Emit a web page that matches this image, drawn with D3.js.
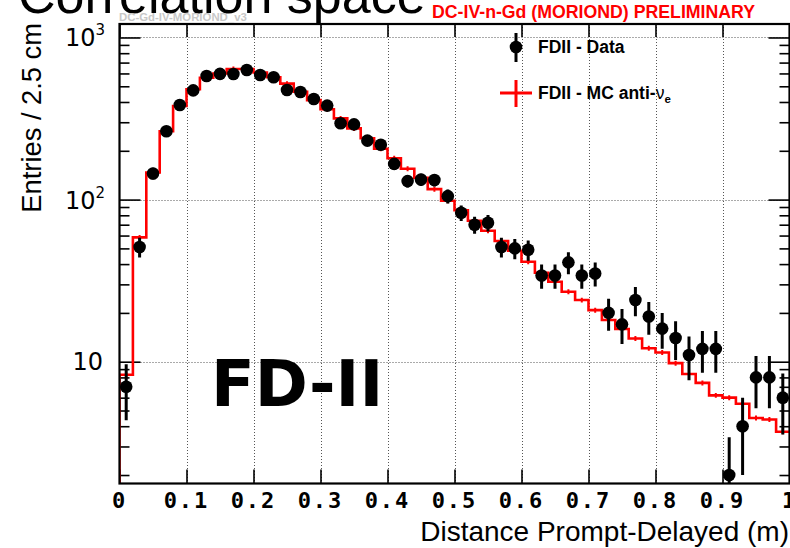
<!DOCTYPE html>
<html><head><meta charset="utf-8">
<script src="https://cdn.jsdelivr.net/npm/d3@7"></script>
<style>html,body{margin:0;padding:0;background:#fff;overflow:hidden} svg{display:block}</style>
</head><body>
<svg id="c" width="790" height="548"></svg>
<script>
// ---- data ----
const binWidth = 0.02;
const dataCounts = [7,51,145,264,383,472,579,596,595,630,587,568,474,461,417,380,296,291,231,218,
  166,130,133,132,105,83,70,72,51,50,49,34,34,41,34,35,20,17,24,19,16,14,11,12,12,2,4,8,8,6];
const mcValues = [8.3,58.5,147,264,378,479,565,600,639,639,608,568,519,463,411,361,317,275,239,206,
  180,155,136.5,116,98.3,85.9,74.1,64.3,55.5,48.4,41.4,35.4,31.1,27.0,24.0,20.8,18.1,15.9,13.9,12.1,
  11.4,9.8,8.4,7.4,6.2,6.0,5.5,4.5,4.4,3.7];
const mcRelErr = 0.035;
const xTickLabels = ["0","0.1","0.2","0.3","0.4","0.5","0.6","0.7","0.8","0.9","1"];
const xTickValues = [0,0.1,0.2,0.3,0.4,0.5,0.6,0.7,0.8,0.9,1];
const yMajorTicks = [10,100,1000];
const yMajorExp = [1,2,3];
const yRange = [1.773,1211];

// ---- layout ----
const svg = d3.select("#c");
const L = 119.5, R = 789.5, T = 24, B = 483.5;
const x = d3.scaleLinear().domain([0,1]).range([L,R]);
const y = d3.scaleLog().domain(yRange).range([B,T]);
const nb = dataCounts.length;
const edges = d3.range(nb+1).map(i => i*binWidth);
const centers = d3.range(nb).map(i => (i+0.5)*binWidth);

// minor y ticks
const yMinor = [];
[1,10,100,1000].forEach(dec => { for (let k=2;k<=9;k++){ const v=dec*k; if (v>yRange[0] && v<yRange[1]) yMinor.push(v);} });

svg.append("defs").append("clipPath").attr("id","plot")
  .append("rect").attr("x",L).attr("y",T).attr("width",R-L).attr("height",B-T);

// grid
const grid = svg.append("g").attr("stroke","#555").attr("stroke-width",1).attr("stroke-dasharray","1,2");
grid.selectAll("line.v").data(xTickValues.slice(1,-1)).join("line")
  .attr("x1",d=>Math.round(x(d))+0.5).attr("x2",d=>Math.round(x(d))+0.5).attr("y1",T).attr("y2",B);
grid.selectAll("line.h").data(yMajorTicks).join("line")
  .attr("y1",d=>Math.round(y(d))+0.5).attr("y2",d=>Math.round(y(d))+0.5).attr("x1",L).attr("x2",R);

// axes ticks via d3 axes
function styleAxis(g){ g.select(".domain").remove(); g.selectAll("line").attr("stroke","#000").attr("stroke-width",1.6); g.selectAll("text").remove(); }
svg.append("g").attr("transform",`translate(${L},0)`).call(d3.axisLeft(y).tickValues(yMajorTicks).tickSize(-21).tickFormat("")).call(styleAxis);
svg.append("g").attr("transform",`translate(${L},0)`).call(d3.axisLeft(y).tickValues(yMinor).tickSize(-10).tickFormat("")).call(styleAxis);
svg.append("g").attr("transform",`translate(${R},0)`).call(d3.axisRight(y).tickValues(yMajorTicks).tickSize(-21).tickFormat("")).call(styleAxis);
svg.append("g").attr("transform",`translate(${R},0)`).call(d3.axisRight(y).tickValues(yMinor).tickSize(-10).tickFormat("")).call(styleAxis);
svg.append("g").attr("transform",`translate(0,${B})`).call(d3.axisBottom(x).tickValues(xTickValues).tickSize(-14).tickFormat("")).call(styleAxis);
svg.append("g").attr("transform",`translate(0,${T})`).call(d3.axisTop(x).tickValues(xTickValues).tickSize(-13).tickFormat("")).call(styleAxis);

// MC histogram
const plot = svg.append("g").attr("clip-path","url(#plot)");
const pts = [[0, yRange[0]]];
mcValues.forEach((v,i)=>{ pts.push([edges[i],v]); pts.push([edges[i+1],v]); });
plot.append("path").datum(pts)
  .attr("d", d3.line().x(d=>x(d[0])).y(d=>y(d[1])))
  .attr("fill","none").attr("stroke","#ff0000").attr("stroke-width",2.6).attr("stroke-linejoin","miter");
plot.selectAll("line.mce").data(mcValues).join("line")
  .attr("x1",(d,i)=>x(centers[i])).attr("x2",(d,i)=>x(centers[i]))
  .attr("y1",d=>y(d*(1+mcRelErr))).attr("y2",d=>y(d*(1-mcRelErr)))
  .attr("stroke","#ff0000").attr("stroke-width",2);

// data points
plot.selectAll("line.err").data(dataCounts).join("line")
  .attr("x1",(d,i)=>x(centers[i])).attr("x2",(d,i)=>x(centers[i]))
  .attr("y1",d=>y(d+Math.sqrt(d))).attr("y2",d=>y(Math.max(d-Math.sqrt(d),yRange[0]*0.9)))
  .attr("stroke","#000").attr("stroke-width",3);
plot.selectAll("circle.pt").data(dataCounts).join("circle")
  .attr("cx",(d,i)=>x(centers[i])).attr("cy",d=>y(d)).attr("r",6.3).attr("fill","#000");

// frame
svg.append("rect").attr("x",L).attr("y",T).attr("width",R-L).attr("height",B-T)
  .attr("fill","none").attr("stroke","#000").attr("stroke-width",2.2);

// x tick labels
svg.append("g").selectAll("text").data(xTickValues).join("text")
  .attr("x",d=>x(d)).attr("y",508).attr("text-anchor","middle")
  .attr("font-family","DejaVu Sans Mono").attr("font-weight","bold").attr("font-size",22)
  .attr("letter-spacing",2)
  .text((d,i)=>xTickLabels[i]);

// y tick labels
const yl = svg.append("g").attr("font-family","DejaVu Sans").attr("fill","#000");
yMajorTicks.forEach((v,i)=>{
  const t = yl.append("text").attr("text-anchor","end").attr("font-size",24);
  if (yMajorExp[i]===1){ t.attr("x",103).attr("y",y(v)+8.5).text("10"); }
  else {
    t.attr("x",105).attr("y",y(v)+9);
    t.append("tspan").text("10");
    t.append("tspan").attr("font-size",15).attr("dy",-11).text(yMajorExp[i]);
  }
});

// axis titles
svg.append("text").attr("x",789).attr("y",541).attr("text-anchor","end")
  .attr("font-family","Liberation Sans").attr("font-size",28).text("Distance Prompt-Delayed (m)");
svg.append("text").attr("transform","translate(41,23) rotate(-90)").attr("text-anchor","end")
  .attr("font-family","Liberation Sans").attr("font-size",27.3).text("Entries / 2.5 cm");

// top texts
svg.append("text").attr("x",18).attr("y",13).attr("font-family","Liberation Sans").attr("font-size",52).text("Correlation space");
svg.append("text").attr("x",119).attr("y",20.5).attr("font-family","Liberation Sans").attr("font-weight","bold")
  .attr("font-size",11.4).attr("fill","#c8c8c8").text("DC-Gd-IV-MORIOND_v3");
svg.append("text").attr("x",432).attr("y",18.3).attr("font-family","Liberation Sans").attr("font-weight","bold")
  .attr("font-size",17.5).attr("fill","#ff0000").attr("textLength",323).attr("lengthAdjust","spacingAndGlyphs")
  .text("DC-IV-n-Gd (MORIOND) PRELIMINARY");

// big label
svg.append("text").attr("x",211).attr("y",406).attr("font-family","DejaVu Sans").attr("font-weight","bold")
  .attr("font-size",64).text("FD-II");

// legend
const lg = svg.append("g");
lg.append("line").attr("x1",516).attr("x2",516).attr("y1",33).attr("y2",62).attr("stroke","#000").attr("stroke-width",3);
lg.append("circle").attr("cx",516).attr("cy",47).attr("r",6.3).attr("fill","#000");
lg.append("text").attr("x",538).attr("y",53).attr("font-family","Liberation Sans").attr("font-weight","bold").attr("font-size",17.5).text("FDII - Data");
lg.append("line").attr("x1",500).attr("x2",532).attr("y1",93).attr("y2",93).attr("stroke","#ff0000").attr("stroke-width",3);
lg.append("line").attr("x1",516).attr("x2",516).attr("y1",80).attr("y2",107).attr("stroke","#ff0000").attr("stroke-width",3);
const t2 = lg.append("text").attr("x",538).attr("y",99).attr("font-family","Liberation Sans").attr("font-weight","bold").attr("font-size",17.5);
t2.append("tspan").text("FDII - MC anti-");
t2.append("tspan").attr("font-weight","normal").text("ν");
t2.append("tspan").attr("font-size",11.5).attr("dy",4).text("e");
</script>
</body></html>
